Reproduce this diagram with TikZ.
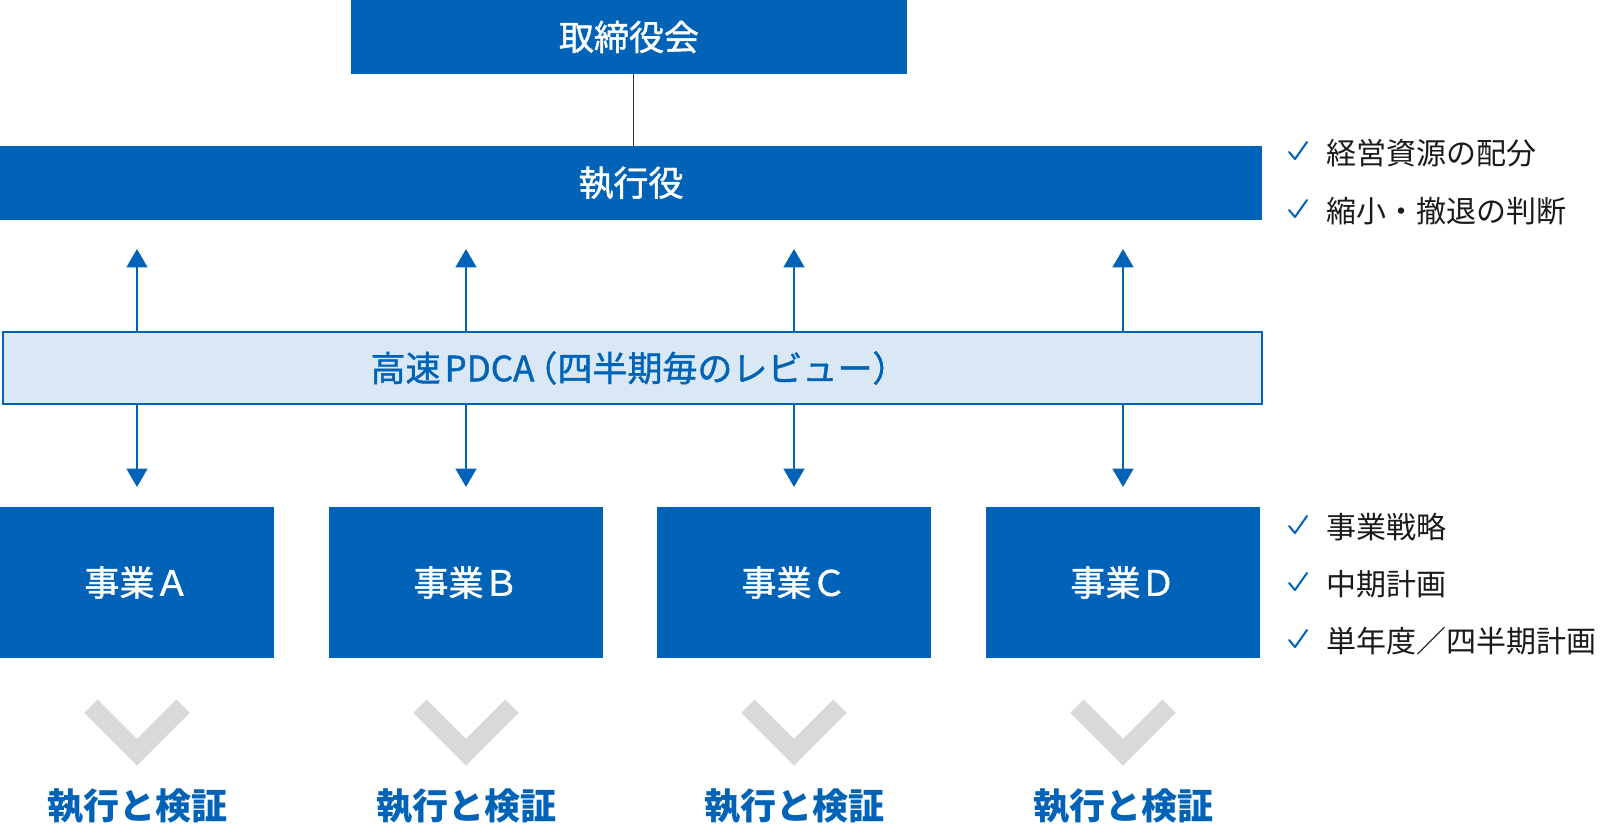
\documentclass[tikz,border=0pt]{standalone}
\usepackage{fontspec}
\setmainfont{Noto Sans CJK JP}
\newfontfamily\mediumfont[FakeBold=1.2]{Noto Sans CJK JP}
\usetikzlibrary{arrows.meta,calc}
\definecolor{mainblue}{RGB}{0,99,183}
\definecolor{lightblue}{RGB}{218,232,245}
\definecolor{chevgray}{RGB}{217,217,217}
\definecolor{txtblack}{RGB}{26,26,26}
\definecolor{linedark}{RGB}{60,45,45}
\begin{document}
\begin{tikzpicture}[x=1pt,y=-1pt,
  bluebox/.style={fill=mainblue,draw=none,inner sep=0pt,text=white,font=\mediumfont\fontsize{35}{40}\selectfont},
  pdcabox/.style={fill=lightblue,draw=mainblue,line width=2pt,inner sep=0pt,text=mainblue,font=\mediumfont\fontsize{35}{40}\selectfont},
  bizbox/.style={bluebox,minimum width=274pt,minimum height=151pt},
  updown/.style={draw=mainblue,line width=2pt,-{Triangle[length=18.5pt,width=21pt]}},
  chev/.style={draw=chevgray,line width=19pt,line join=miter,line cap=butt},
  result/.style={text=mainblue,font=\bfseries\fontsize{36}{40}\selectfont,inner sep=0pt},
  listtext/.style={anchor=west,inner sep=0pt,text=txtblack,font=\fontsize{30}{36}\selectfont},
  chk/.style={draw=mainblue,line width=2pt,line join=round,line cap=round}
]
\useasboundingbox (0,0) rectangle (1600,826);

% top boxes
\node[bluebox,minimum width=556pt,minimum height=74pt] (board) at (629,37) {取締役会};
\node[bluebox,minimum width=1262pt,minimum height=74pt] (exec) at (631,183) {執行役};
\coordinate (cx) at (633,0);
\draw[draw=linedark,line width=1pt] (board.south -| cx) -- (exec.north -| cx);

% PDCA
\node[pdcabox,minimum width=1259pt,minimum height=72pt] (pd) at (632,368) {\kern14pt 高速\kern4pt PDCA\kern-12pt（四半期毎のレビュー）};

% business boxes
\node[bizbox] (ba) at (137,582.5) {事業Ａ};
\node[bizbox] (bb) at (466,582.5) {事業Ｂ};
\node[bizbox] (bc) at (794,582.5) {事業Ｃ};
\node[bizbox] (bd) at (1123,582.5) {事業Ｄ};

% arrows
\foreach \b/\xx in {ba/137,bb/466,bc/794,bd/1123}{
  \coordinate (up-\b) at (\xx,249);
  \coordinate (dn-\b) at (\xx,487);
  \draw[updown] (pd.north -| up-\b) -- (up-\b);
  \draw[updown] (pd.south -| dn-\b) -- (dn-\b);
  \draw[chev] ($(\b.south)+(-46,48)$) -- ($(\b.south)+(0,94)$) -- ($(\b.south)+(46,48)$);
  \node[result] (r-\b) at ($(\b.south)+(0,148)$) {執行と検証};
}

% check lists
\node[listtext] (l1) at (1326,153) {経営資源の配分};
\node[listtext] (l2) at (1326,211) {縮小・撤退の判断};
\node[listtext] (l3) at (1326,527) {事業戦略};
\node[listtext] (l4) at (1326,584) {中期計画};
\node[listtext] (l5) at (1326,641) {単年度／四半期計画};
\foreach \l in {l1,l2,l3,l4,l5}{
  \draw[chk] ($(\l.west)+(-37,-1)$) -- ++(6,7) -- ++(12,-17);
}
\end{tikzpicture}
\end{document}
